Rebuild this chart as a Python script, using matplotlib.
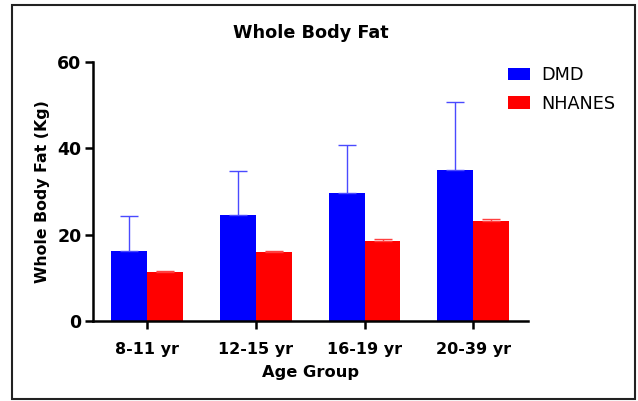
import matplotlib.pyplot as plt
import numpy as np
from matplotlib.patches import Rectangle

plt.rcParams["font.family"] = ["DejaVu Sans"]

# Data
groups = ["8-11 yr", "12-15 yr", "16-19 yr", "20-39 yr"]
dmd_mean = [16.3, 24.5, 29.6, 34.9]
dmd_err = [8.1, 10.3, 11.1, 15.7]
nhanes_mean = [11.3, 15.9, 18.6, 23.1]
nhanes_err = [0.3, 0.4, 0.4, 0.4]

x = np.arange(len(groups))
width = 0.33

fig = plt.figure(figsize=(6.38, 4.01), dpi=100)
ax = fig.add_axes([0.1453, 0.1995, 0.6818, 0.6466])

ax.bar(x - width / 2, dmd_mean, width, color="#0000ff", label="DMD",
       yerr=[np.zeros(4), dmd_err],
       error_kw=dict(ecolor="#4a4aff", elinewidth=1.0, capsize=6.5, capthick=1.0))
ax.bar(x + width / 2, nhanes_mean, width, color="#ff0000", label="NHANES",
       yerr=[np.zeros(4), nhanes_err],
       error_kw=dict(ecolor="#ff4040", elinewidth=1.0, capsize=6.5, capthick=1.0))

ax.set_xlim(-0.5, 3.5)
ax.set_ylim(0, 60)
ax.set_yticks([0, 20, 40, 60])
ax.set_xticks(x)
ax.set_xticklabels(groups)

for s in ["top", "right"]:
    ax.spines[s].set_visible(False)
for s in ["left", "bottom"]:
    ax.spines[s].set_linewidth(1.8)
ax.tick_params(axis="y", width=1.8, length=6, labelsize=12.5, pad=2)
ax.tick_params(axis="x", width=1.8, length=6, labelsize=11.5, pad=9)
for lab in ax.get_xticklabels() + ax.get_yticklabels():
    lab.set_fontweight("bold")

ax.set_ylabel("Whole Body Fat (Kg)", fontsize=11.3, fontweight="bold", labelpad=5)
ax.set_xlabel("Age Group", fontsize=11.7, fontweight="bold", labelpad=6)
fig.text(0.487, 1 - 33 / 401, "Whole Body Fat", ha="center", va="center",
         fontsize=12.7, fontweight="bold")

ax.legend(loc="upper left", bbox_to_anchor=(508 / 638, 1 - 66 / 401),
          bbox_transform=fig.transFigure, frameon=False, borderpad=0,
          borderaxespad=0, fontsize=12.7, handlelength=1.27, handleheight=0.7,
          labelspacing=0.6, handletextpad=0.63)

# thin border around the whole figure
fig.patches.append(Rectangle((12 / 638, 2 / 401), 623 / 638, 394 / 401,
                             transform=fig.transFigure, fill=False,
                             edgecolor="#222222", linewidth=1.5))

fig.savefig("out.png", dpi=100)
